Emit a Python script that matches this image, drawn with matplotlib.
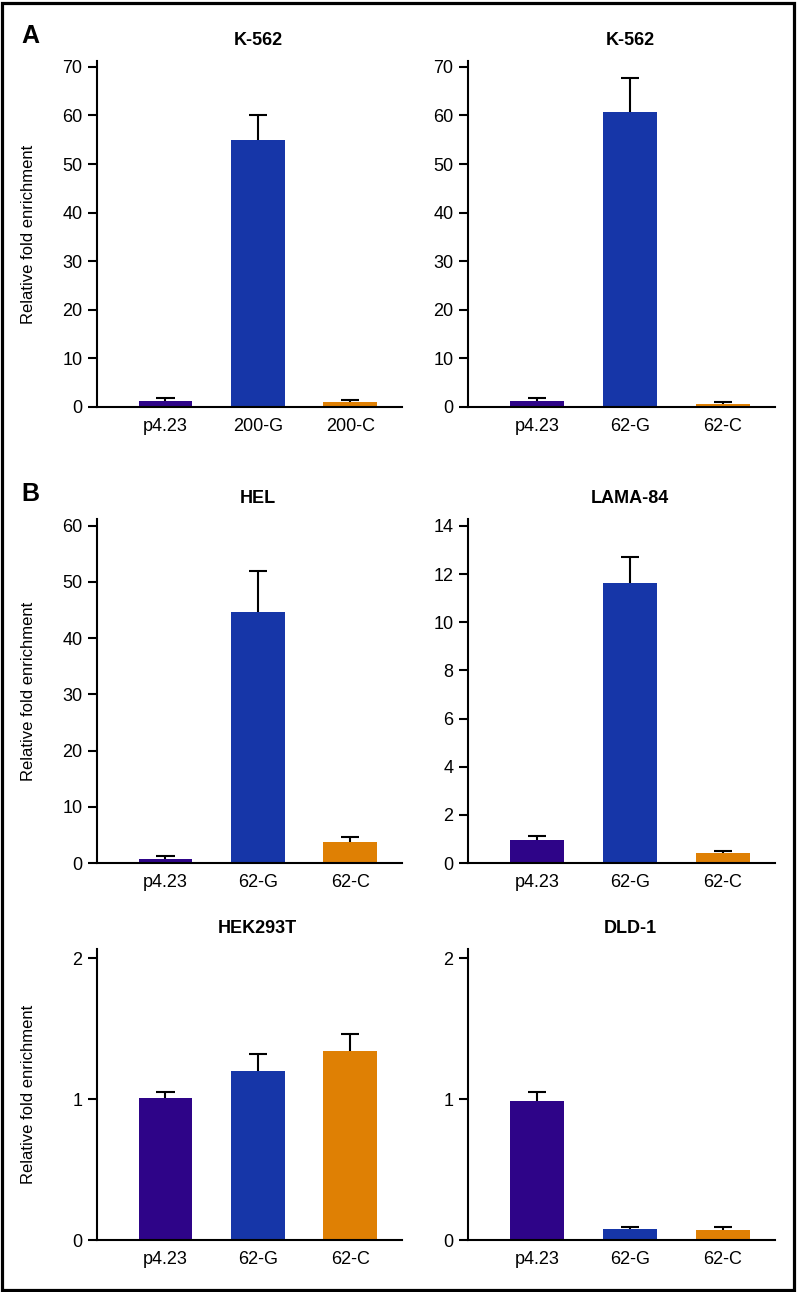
import matplotlib
matplotlib.use("Agg")
import matplotlib.pyplot as plt
from matplotlib.patches import Rectangle

plt.rcParams["font.family"] = ["Liberation Sans", "DejaVu Sans"]

# panel data
TITLES = ["K-562", "K-562", "HEL", "LAMA-84", "HEK293T", "DLD-1"]
LABELS_A1 = ["p4.23", "200-G", "200-C"]
LABELS_62 = ["p4.23", "62-G", "62-C"]

k562_200_mean = [1.2, 55.0, 1.0]
k562_200_err = [0.6, 5.0, 0.5]
k562_62_mean = [1.3, 60.6, 0.6]
k562_62_err = [0.5, 7.0, 0.4]
hel_mean = [0.8, 44.6, 3.8]
hel_err = [0.5, 7.3, 0.8]
lama_mean = [0.97, 11.65, 0.41]
lama_err = [0.14, 1.08, 0.10]
hek_mean = [1.007, 1.2, 1.342]
hek_err = [0.04, 0.12, 0.118]
dld_mean = [0.99, 0.076, 0.07]
dld_err = [0.06, 0.02, 0.025]

YTICKS = [list(range(0, 71, 10)), list(range(0, 71, 10)), list(range(0, 61, 10)),
          list(range(0, 15, 2)), [0, 1, 2], [0, 1, 2]]
YTOPS = [71.2, 71.2, 61.2, 14.29, 2.064, 2.064]

COLORS = ["#2e0488", "#1636a8", "#df8004"]

fig = plt.figure(figsize=(7.97, 12.92), dpi=100)

# axes boxes in figure fractions: [left, bottom, width, height]
boxes = [
    [0.1217, 0.6850, 0.3827, 0.2678],
    [0.5872, 0.6850, 0.3852, 0.2678],
    [0.1217, 0.3320, 0.3827, 0.2663],
    [0.5872, 0.3320, 0.3852, 0.2663],
    [0.1217, 0.0402, 0.3827, 0.2252],
    [0.5872, 0.0402, 0.3852, 0.2252],
]

panels = [
    (LABELS_A1, k562_200_mean, k562_200_err),
    (LABELS_62, k562_62_mean, k562_62_err),
    (LABELS_62, hel_mean, hel_err),
    (LABELS_62, lama_mean, lama_err),
    (LABELS_62, hek_mean, hek_err),
    (LABELS_62, dld_mean, dld_err),
]

for i, (box, (labels, mean, err)) in enumerate(zip(boxes, panels)):
    ax = fig.add_axes(box)
    x = list(range(len(labels)))
    ax.bar(x, mean, width=0.58, color=COLORS, zorder=2)
    # upper whisker only, with cap
    tops = [m + e for m, e in zip(mean, err)]
    ax.vlines(x, mean, tops, color="black", linewidth=1.5, zorder=1)
    ax.hlines(tops, [v - 0.1 for v in x], [v + 0.1 for v in x],
              color="black", linewidth=1.5, zorder=1)
    ax.set_xlim(-0.74, 2.56)
    ax.set_ylim(0, YTOPS[i])
    ax.set_yticks(YTICKS[i])
    ax.set_xticks(x)
    ax.set_xticklabels(labels)
    for s in ["top", "right"]:
        ax.spines[s].set_visible(False)
    ax.spines["left"].set_linewidth(1.5)
    ax.spines["bottom"].set_linewidth(1.5)
    ax.tick_params(axis="y", length=6.5, width=1.5, pad=4, labelsize=13)
    ax.tick_params(axis="x", length=0, pad=8, labelsize=13)
    ax.annotate(TITLES[i], xy=(1, 1), xycoords=("data", "axes fraction"),
                xytext=(0, 15), textcoords="offset points",
                ha="center", va="center", fontsize=13, fontweight="bold")
    if i % 2 == 0:
        b = box
        fig.text(29 / 797, b[1] + b[3] / 2, "Relative fold enrichment",
                 rotation=90, ha="center", va="center", fontsize=12)

fig.text(30 / 797, 1 - 36 / 1292, "A", fontsize=18, fontweight="bold",
         ha="center", va="center")
fig.text(30 / 797, 1 - 494 / 1292, "B", fontsize=18, fontweight="bold",
         ha="center", va="center")

fig.patches.append(Rectangle((0.0025, 0.0012), 0.9935, 0.9965, transform=fig.transFigure,
                             fill=False, edgecolor="black", linewidth=2.3))

fig.savefig("out.png", dpi=100)
